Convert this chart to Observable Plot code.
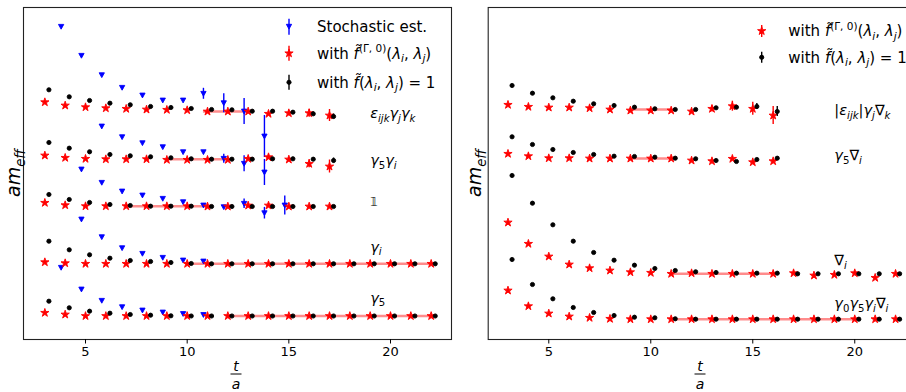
<!DOCTYPE html>
<html><head><meta charset="utf-8">
<script src="https://cdn.jsdelivr.net/npm/d3@7"></script>
<script src="https://cdn.jsdelivr.net/npm/@observablehq/plot@0.6"></script>
<style>
html,body{margin:0;padding:0;background:#fff;}
#wrap{position:relative;width:906px;height:392px;overflow:hidden;background:#fff;}
#wrap > svg{position:absolute;top:0;}
text{white-space:pre;}
</style></head><body><div id="wrap"></div>
<script>
// ---------- time slices ----------
const tA = [3,4,5,6,7,8,9,10,11,12,13,14,15,16,17];
const tB = [3,4,5,6,7,8,9,10,11,12,13,14,15,16,17,18,19,20,21,22];
const tC = [3,4,5,6,7,8,9,10,11,12,13,14,15,16];

// ---------- LEFT panel (arbitrary am_eff units, offset per operator) ----------
const leftOps = ["ε_{ijk}γ_{j}γ_{k}", "γ_{5}γ_{i}", "𝟙", "γ_{i}", "γ_{5}"];

const g1Red   = [237.3,234,232.3,231.3,230.7,230,229.7,229.3,228,228,228,225.7,226.3,226.3,224];
const g1RedE  = [0.4,0.4,0.5,0.5,0.5,0.6,0.6,0.7,0.8,1,1.2,1.6,2.5,4,6];
const g1Blk   = [249.7,242.7,239,236.3,234.7,233,232,231,230,229.7,228.3,228.3,227.3,225.7,223];
const g1BlkE  = [0.3,0.3,0.3,0.4,0.4,0.5,0.5,0.6,0.7,0.8,1,1.2,1.5,1.8,2.5];
const g1BlueT = [4,5,6,7,8,9,10,11,12,13,14];
const g1Blue  = [312.7,283.7,264.3,251.7,244,239,239,245.7,236.3,228,203];
const g1BlueE = [0.5,0.5,0.5,0.5,0.6,0.8,1,5.5,9.5,13,21];

const g2Red   = [184,181.7,180.7,180.3,180.3,180.3,179.7,179.7,179.7,179.7,180.7,182.3,180,175.7,173];
const g2RedE  = [0.4,0.4,0.5,0.5,0.5,0.6,0.6,0.7,0.8,1,1.5,2,2,4,6.5];
const g2Blk   = [197,191.3,187.7,185,183.7,182.7,181.7,180.7,180.3,180.3,180.3,180.7,180.7,180.3,179];
const g2BlkE  = [0.3,0.3,0.3,0.4,0.4,0.5,0.5,0.6,0.7,0.8,1,1.2,1.5,1.8,2.5];
const g2BlueT = [6,7,8,9,10,11,12,13,14];
const g2Blue  = [213,202.3,196.3,192.3,187.3,187.3,180.7,175.7,167];
const g2BlueE = [0.5,0.5,0.5,0.6,0.8,1.5,4.5,8,13];

const g3Red   = [136.7,134.3,133.3,133.3,133.3,133.3,133.3,133.3,133,133,134,134,133,133,133];
const g3RedE  = [0.3,0.3,0.3,0.3,0.4,0.4,0.4,0.5,0.5,0.6,1.5,1.5,0.8,0.9,1];
const g3Blk   = [145,140,137,135,134,133.3,133.3,133.3,133,133,133,133,133,133,133];
const g3BlkE  = [0.3,0.3,0.3,0.3,0.3,0.4,0.4,0.4,0.5,0.5,0.6,0.6,0.7,0.7,0.8];
const g3BlueT = [5,6,7,8,9,10,11,12,13,14,15];
const g3Blue  = [170,156.7,148,144,140.7,137.3,134,132.3,135.7,126.3,134];
const g3BlueE = [0.5,0.5,0.5,0.5,0.5,0.6,0.8,1,4.7,5.8,9.5];

const g4Red   = [77.3,76.3,75.7,75.7,75.7,75.7,75.7,75.7,75.7,75.7,75.7,75.7,75.7,75.7,75.7,75.7,75.7,75.7,75.7,75.7];
const g4Blk   = [98.3,89.7,84.7,81.3,79,78,77,76,75.7,75.7,75.7,75.7,75.7,75.7,75.7,75.7,75.7,75.7,75.7,75.7];
const g4BlueT = [5,6,7,8,9,10,11];
const g4Blue  = [120,102.3,91.3,85.7,81.7,79,78];

const g5Red   = [26.7,25,23.5,23.5,23.5,23.5,23.5,23.5,23.5,23.5,23.5,23.5,23.5,23.5,23.5,23.5,23.5,23.5,23.5,23.5];
const g5Blk   = [38.3,31.7,28.3,26.3,25,24.3,23.7,23.5,23.5,23.5,23.5,23.5,23.5,23.5,23.5,23.5,23.5,23.5,23.5,23.5];
const g5BlueT = [4,5,6,7,8,9,10,11];
const g5Blue  = [71.7,50,38.7,32.3,29,27,25.5,24.5];

const smallE20 = [0.3,0.3,0.3,0.3,0.3,0.3,0.3,0.3,0.3,0.3,0.3,0.3,0.3,0.3,0.3,0.3,0.3,0.3,0.3,0.3];
const smallE8  = [0.4,0.4,0.4,0.4,0.4,0.4,0.4,0.4];

const fitStartL = [10.8, 9, 7, 10, 12];
const fitEndL   = [13, 12, 11, 22, 22];
const fitValL   = [228, 180.3, 133.3, 75.7, 23.5];
const labelValL = [226, 179, 138, 92.3, 41.3];

// ---------- RIGHT panel ----------
const rightOps = ["|ε_{ijk}|γ_{j}∇_{k}", "γ_{5}∇_{i}", "∇_{i}", "γ_{0}γ_{5}γ_{i}∇_{i}"];

const r1Red  = [234.7,232.7,232,232,231.3,230,229,229,229,228,230.7,233.3,230.7,224];
const r1RedE = [0.4,0.4,0.5,0.5,0.6,0.7,0.8,0.8,1,1.5,3,5,6.5,9];
const r1Blk  = [254,246.3,241.7,238.3,235.7,234,232.3,230.7,230,230,231.7,232.3,233,228];
const r1BlkE = [0.3,0.3,0.4,0.4,0.5,0.5,0.6,0.7,0.8,0.9,1,1.5,3,5];

const r2Red  = [185.7,183.3,181.3,181.3,181,181,181,181,181,179,178.3,180.7,177.3,178.3];
const r2RedE = [0.4,0.4,0.4,0.5,0.5,0.5,0.6,0.6,0.7,1,1,1.5,1.5,1.5];
const r2Blk  = [202.7,195,190,187,185,183.3,183,182.3,181.3,180.7,179,178,180,181.3];
const r2BlkE = [0.3,0.3,0.3,0.4,0.4,0.4,0.5,0.5,0.6,0.6,0.7,0.8,0.9,1];

const r3Red  = [117,95.7,83,75,71.3,69,67.3,66.7,65.7,66.3,65.7,65.7,65.7,65.7,66.3,64,64.7,66.3,61.7,65.7];
const r3RedE = [0.5,0.5,0.5,0.5,0.5,0.5,0.5,0.5,0.6,0.6,0.7,0.7,0.8,0.8,0.9,1,1,1.1,1.2,1.3];
const r3Blk  = [164,136.3,114.7,98.3,87,79.3,74.3,71,69,67.7,67,66.3,66.3,66.3,65.7,65.7,65.7,65.7,65.7,65.7];

const r4Red  = [49,33.3,26,23,21.7,20.7,20.3,20.3,20.3,20.3,20.3,20.3,20.3,20.3,20.3,20.3,20.3,20.3,20.3,20.3];
const r4Blk  = [80,55,40.7,32,27,24,22.3,21.7,20.7,20.3,20.3,20.3,20.3,20.3,20.3,20.3,20.3,20.3,20.3,20.3];

const fitStartR = [9, 9, 11, 11];
const fitEndR   = [11, 11, 16, 20];
const fitValR   = [230, 181, 65.7, 20.3];
const labelValR = [229, 184, 79, 36];

const xTicks = [5, 10, 15, 20];

// ---------- helpers ----------
function rows(group, kind, ts, vs, es, shift) {
  return vs.map((v, i) => ({group, kind, t: ts[i] + shift, v, e: es ? es[i] : 0}));
}
const plain = m => m.replace(/[_^]\{([^}]*)\}/g, "$1").replace(/[«»]/g, "");

function richText(sel, markup, size) {
  const segs = [];
  let i = 0;
  while (i < markup.length) {
    const c = markup[i];
    if ((c === "_" || c === "^") && markup[i + 1] === "{") {
      const j = markup.indexOf("}", i);
      segs.push({text: markup.slice(i + 2, j), mode: c === "_" ? "sub" : "sup", roman: false});
      i = j + 1;
    } else if (c === "«") {
      const j = markup.indexOf("»", i);
      segs.push({text: markup.slice(i + 1, j), mode: "base", roman: true});
      i = j + 1;
    } else {
      let j = i;
      while (j < markup.length && !((markup[j] === "_" || markup[j] === "^") && markup[j + 1] === "{") && markup[j] !== "«") j++;
      segs.push({text: markup.slice(i, j), mode: "base", roman: false});
      i = j;
    }
  }
  let cur = 0;
  const isIt = ch => /[A-Za-zα-ωϵ\u{1D7D9}]/u.test(ch);
  for (const s of segs) {
    const chars = Array.from(s.text);
    const runs = [];
    let prevIt = false;
    for (const ch of chars) {
      let it = s.roman ? false : (/[\u0300-\u036f]/.test(ch) ? prevIt : isIt(ch));
      if (runs.length && runs[runs.length - 1].it === it) runs[runs.length - 1].text += ch;
      else runs.push({text: ch, it});
      prevIt = it;
    }
    const target = s.mode === "sub" ? 0.24 * size : s.mode === "sup" ? -0.42 * size : 0;
    const fs = s.mode === "base" ? size : size * 0.7;
    for (const r of runs) {
      const small = r.text === "𝟙";
      sel.append("tspan")
        .attr("dy", target - cur)
        .attr("font-size", small ? size * 0.8 : fs)
        .attr("font-style", r.it ? "italic" : "normal")
        .text(r.text);
      cur = target;
    }
  }
}

const triDown = {
  draw(ctx, size) {
    const r = Math.sqrt(size / Math.PI);
    const w = 1.1 * r, h = 1.0 * r;
    ctx.moveTo(0, h);
    ctx.lineTo(-w, -h);
    ctx.lineTo(w, -h);
    ctx.closePath();
  }
};

const FONT = "DejaVu Sans";
const MK = {
  blue:  {symbol: triDown, r: 2.4, color: "#0000ff"},
  red:   {symbol: "star", r: 2.6, color: "#ff0000"},
  black: {symbol: "circle", r: 2.1, color: "#000000"}
};

function panel({width, ml, mr, xDomain, data, fits, labels}) {
  const marks = [
    Plot.ruleY(fits, {y: "v", x1: "t0", x2: "t1", stroke: "#ff0000", strokeOpacity: 0.45, strokeWidth: 2.5})
  ];
  for (const kind of ["blue", "red", "black"]) {
    const sub = data.filter(d => d.kind === kind);
    if (!sub.length) continue;
    const mk = MK[kind];
    marks.push(
      Plot.ruleX(sub, {x: "t", y1: d => d.v - d.e, y2: d => d.v + d.e, stroke: mk.color, strokeWidth: 1.4}),
      Plot.dot(sub, {x: "t", y: "v", symbol: mk.symbol, r: mk.r, fill: mk.color, stroke: mk.color, strokeWidth: 0.9})
    );
  }
  marks.push(
    Plot.frame({stroke: "#222", strokeWidth: 1.1}),
    Plot.axisX({ticks: xTicks, tickSize: 4.5, tickPadding: 2.5, fontSize: 13, label: null, tickFormat: d => String(d)}),
    Plot.text(labels, {x: "t", y: "v", text: d => plain(d.m), textAnchor: "start", fontSize: 14.5, fontFamily: FONT, fill: "#000"})
  );
  const plot = Plot.plot({
    width, height: 392,
    marginLeft: ml, marginRight: mr, marginTop: 7, marginBottom: 53,
    x: {domain: xDomain, label: null},
    y: {domain: [0, 332], axis: null},
    style: {fontFamily: FONT, fontSize: "13px", color: "#000", background: "transparent", overflow: "visible"},
    marks
  });
  d3.select(plot).selectAll('g[aria-label="text"] text').each(function(_, i) {
    this.textContent = "";
    richText(d3.select(this), labels[i].m, 14.5);
  });
  return plot;
}

// ---------- build data ----------
const leftData = [].concat(
  rows(0, "blue", g1BlueT, g1Blue, g1BlueE, -0.2),
  rows(1, "blue", g2BlueT, g2Blue, g2BlueE, -0.2),
  rows(2, "blue", g3BlueT, g3Blue, g3BlueE, -0.2),
  rows(3, "blue", g4BlueT, g4Blue, smallE8, -0.2),
  rows(4, "blue", g5BlueT, g5Blue, smallE8, -0.2),
  rows(0, "red", tA, g1Red, g1RedE, 0), rows(1, "red", tA, g2Red, g2RedE, 0),
  rows(2, "red", tA, g3Red, g3RedE, 0), rows(3, "red", tB, g4Red, smallE20, 0),
  rows(4, "red", tB, g5Red, smallE20, 0),
  rows(0, "black", tA, g1Blk, g1BlkE, 0.2), rows(1, "black", tA, g2Blk, g2BlkE, 0.2),
  rows(2, "black", tA, g3Blk, g3BlkE, 0.2), rows(3, "black", tB, g4Blk, smallE20, 0.2),
  rows(4, "black", tB, g5Blk, smallE20, 0.2)
);
const rightData = [].concat(
  rows(0, "red", tC, r1Red, r1RedE, 0), rows(1, "red", tC, r2Red, r2RedE, 0),
  rows(2, "red", tB, r3Red, r3RedE, 0), rows(3, "red", tB, r4Red, smallE20, 0),
  rows(0, "black", tC, r1Blk, r1BlkE, 0.2), rows(1, "black", tC, r2Blk, r2BlkE, 0.2),
  rows(2, "black", tB, r3Blk, smallE20, 0.2), rows(3, "black", tB, r4Blk, smallE20, 0.2)
);
const fitsL = fitStartL.map((t0, i) => ({t0, t1: fitEndL[i], v: fitValL[i]}));
const fitsR = fitStartR.map((t0, i) => ({t0, t1: fitEndR[i], v: fitValR[i]}));
const labelsL = leftOps.map((m, i) => ({m, t: 19, v: labelValL[i]}));
const labelsR = rightOps.map((m, i) => ({m, t: 19, v: labelValR[i]}));

const wrap = d3.select("#wrap");
const pL = panel({width: 460, ml: 23, mr: 9, xDomain: [1.95, 23.0], data: leftData, fits: fitsL, labels: labelsL});
const pR = panel({width: 460, ml: 27.7, mr: 2.5, xDomain: [2.03, 23.1], data: rightData, fits: fitsR, labels: labelsR});
d3.select(pL).style("left", "0px");
d3.select(pR).style("left", "460px");
wrap.node().appendChild(pL);
wrap.node().appendChild(pR);

// ---------- overlay: legends and axis labels ----------
const ov = wrap.append("svg").attr("width", 906).attr("height", 392).style("left", "0px")
  .attr("font-family", FONT).style("pointer-events", "none");

const legendItems = [
  {x: 289, tx: 317, y: 26.7, kind: "blue", m: "«Stochastic est.»", bar: 8},
  {x: 289, tx: 317, y: 53.3, kind: "red", m: "«with »f\u0303^{(Γ, 0)}(λ_{i}, λ_{j})", bar: 7.5},
  {x: 289, tx: 317, y: 82.3, kind: "black", m: "«with »f\u0303(λ_{i}, λ_{j}) = 1", bar: 7.5},
  {x: 761.7, tx: 788.3, y: 31, kind: "red", m: "«with »f\u0303^{(Γ, 0)}(λ_{i}, λ_{j})", bar: 6},
  {x: 761.7, tx: 788.3, y: 57.3, kind: "black", m: "«with »f\u0303(λ_{i}, λ_{j}) = 1", bar: 5.5}
];
const legSym = {blue: triDown, red: d3.symbolStar, black: d3.symbolCircle};
for (const it of legendItems) {
  const mk = MK[it.kind];
  ov.append("line").attr("x1", it.x).attr("x2", it.x).attr("y1", it.y - it.bar).attr("y2", it.y + it.bar)
    .attr("stroke", mk.color).attr("stroke-width", 1.4);
  ov.append("path").attr("d", d3.symbol(legSym[it.kind], Math.PI * mk.r * mk.r)())
    .attr("transform", `translate(${it.x},${it.y})`).attr("fill", mk.color)
    .attr("stroke", mk.color).attr("stroke-width", 0.9);
  const t = ov.append("text").attr("x", it.tx).attr("y", it.y + 5.3).attr("fill", "#000");
  richText(t, it.m, 15);
}

// x-axis labels: t over a (fraction)
for (const cx of [236, 700]) {
  ov.append("text").attr("x", cx).attr("y", 370.5).attr("text-anchor", "middle").attr("font-size", 14)
    .attr("font-style", "italic").attr("fill", "#000").text("t");
  ov.append("line").attr("x1", cx - 5.5).attr("x2", cx + 5.5).attr("y1", 374).attr("y2", 374)
    .attr("stroke", "#000").attr("stroke-width", 1);
  ov.append("text").attr("x", cx).attr("y", 388.5).attr("text-anchor", "middle").attr("font-size", 14)
    .attr("font-style", "italic").attr("fill", "#000").text("a");
}
// y-axis labels
for (const bx of [20, 481]) {
  const t = ov.append("text").attr("transform", `translate(${bx},173) rotate(-90)`)
    .attr("text-anchor", "middle").attr("fill", "#000");
  richText(t, "am_{eff}", 19);
}
</script></body></html>
